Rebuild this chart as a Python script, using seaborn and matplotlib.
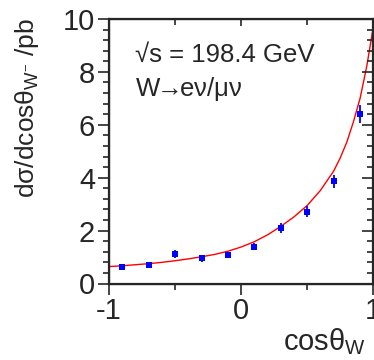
import numpy as np
import pandas as pd
import matplotlib
matplotlib.use("Agg")
import matplotlib.pyplot as plt
from matplotlib.ticker import MultipleLocator
import seaborn as sns

# measured points (bin centres) and errors
cos_bins = [-0.9, -0.7, -0.5, -0.3, -0.1, 0.1, 0.3, 0.5, 0.7, 0.9]
xsec = [0.61, 0.69, 1.12, 0.95, 1.08, 1.39, 2.11, 2.71, 3.87, 6.40]
xsec_err = [0.05, 0.06, 0.14, 0.12, 0.12, 0.13, 0.19, 0.21, 0.25, 0.33]

# theory curve
curve_cos = [-1.0, -0.9, -0.8, -0.7, -0.6, -0.5, -0.4, -0.3, -0.2, -0.1, 0.0,
             0.1, 0.2, 0.3, 0.4, 0.5, 0.6, 0.7, 0.75, 0.8, 0.85, 0.9, 0.95, 1.0]
curve_val = [0.64, 0.67, 0.71, 0.75, 0.80, 0.86, 0.93, 1.01, 1.10, 1.22, 1.38,
             1.58, 1.84, 2.16, 2.52, 2.95, 3.52, 4.25, 4.75, 5.35, 6.12, 7.0, 8.2, 9.7]

sns.set_style("ticks")
plt.rcParams["font.family"] = ["Liberation Sans", "DejaVu Sans"]
plt.rcParams["mathtext.fontset"] = "custom"
plt.rcParams["mathtext.rm"] = "Liberation Sans"
plt.rcParams["mathtext.it"] = "Liberation Sans"
plt.rcParams["axes.unicode_minus"] = False

pts = pd.DataFrame({"c": cos_bins, "y": xsec, "e": xsec_err})
curve = pd.DataFrame({"c": curve_cos, "y": curve_val})

fig = plt.figure(figsize=(3.74, 3.6), dpi=100)
ax = fig.add_axes([109 / 374, 1 - 283.5 / 360, 264.3 / 374, 264.5 / 360])

sns.lineplot(data=curve, x="c", y="y", color="#ff0000", lw=1.0, ax=ax)
ax.errorbar(pts["c"], pts["y"], yerr=pts["e"], fmt="none", ecolor="#0000ff",
            elinewidth=1.3, capsize=0)
sns.scatterplot(data=pts, x="c", y="y", color="#0000ff", marker="s", s=13,
                edgecolor="#0000ff", linewidth=0, ax=ax, zorder=3)

ax.set_xlim(-1, 1)
ax.set_ylim(0, 10)
ax.xaxis.set_major_locator(MultipleLocator(1))
ax.xaxis.set_minor_locator(MultipleLocator(0.5))
ax.yaxis.set_major_locator(MultipleLocator(2))
ax.yaxis.set_minor_locator(MultipleLocator(0.4))
ax.tick_params(which="major", direction="out", length=8, width=1.2, labelsize=21, pad=2)
ax.tick_params(which="minor", direction="out", length=4, width=1.2)
for s in ax.spines.values():
    s.set_linewidth(1.6)
    s.set_visible(True)

# inward ticks on top and right
axr = ax.twinx()
axr.set_ylim(0, 10)
axr.yaxis.set_major_locator(MultipleLocator(2))
axr.yaxis.set_minor_locator(MultipleLocator(0.4))
axr.tick_params(which="major", direction="in", length=8, width=1.2, labelright=False)
axr.tick_params(which="minor", direction="in", length=4, width=1.2)
axt = ax.twiny()
axt.set_xlim(-1, 1)
axt.xaxis.set_major_locator(MultipleLocator(1))
axt.xaxis.set_minor_locator(MultipleLocator(0.5))
axt.tick_params(which="major", direction="in", length=5, width=1.2, labeltop=False)
axt.tick_params(which="minor", direction="in", length=4, width=1.2)

ax.set_ylabel(r"dσ/dcosθ$_{\mathrm{W}^{-}}$ /pb", fontsize=19)
ax.yaxis.set_label_coords(-0.257, 0.663)
ax.set_xlabel(r"cosθ$_{\mathrm{W}}$", fontsize=21, ha="left", va="baseline")
ax.xaxis.set_label_coords(0.658, -0.252)

ax.text(0.10, 0.865, "√s = 198.4 GeV", transform=ax.transAxes, fontsize=18.5, va="center")
ax.text(0.10, 0.735, r"W$\!\!\rightarrow\!\!$eν/μν", transform=ax.transAxes, fontsize=18.5, va="center")

fig.savefig("out.png", dpi=100)
